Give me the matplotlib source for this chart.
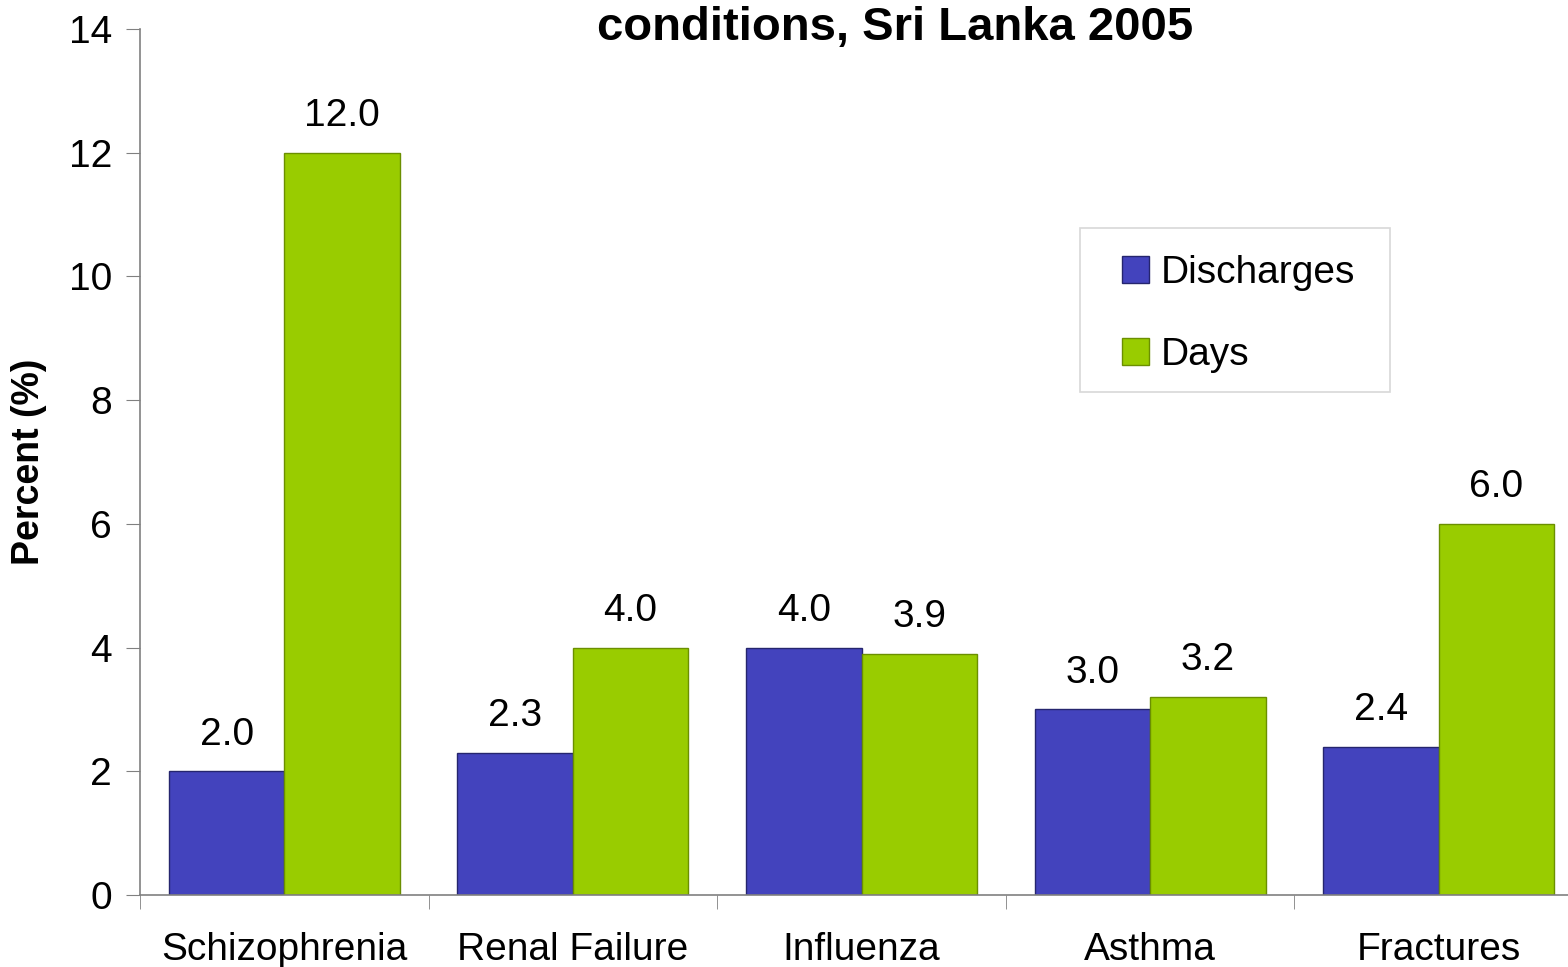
import numpy as np
import matplotlib.pyplot as plt
from matplotlib.patches import Rectangle

categories = ['Schizophrenia', 'Renal Failure', 'Influenza', 'Asthma', 'Fractures']
discharges = [2.0, 2.3, 4.0, 3.0, 2.4]
days = [12.0, 4.0, 3.9, 3.2, 6.0]

plt.rcParams['font.family'] = ['Liberation Sans', 'DejaVu Sans']

W, H = 1568, 967
fig = plt.figure(figsize=(W / 100, H / 100), dpi=100)
ax = fig.add_axes([140 / W, 1 - 895 / H, (1583 - 140) / W, (895 - 29) / H])

x = np.arange(len(categories))
w = 0.4
b1 = ax.bar(x - w / 2, discharges, w, color='#4343bd', edgecolor='#25256e',
            linewidth=1.0, label='Discharges')
b2 = ax.bar(x + w / 2, days, w, color='#99cc00', edgecolor='#6b8f00',
            linewidth=1.0, label='Days')

for bars, vals in ((b1, discharges), (b2, days)):
    for r, v in zip(bars, vals):
        ax.text(r.get_x() + r.get_width() / 2, v + 0.3, f'{v:.1f}',
                ha='center', va='bottom', fontsize=28)

ax.set_xlim(-0.5, len(categories) - 0.5)
ax.set_ylim(0, 14)
ax.set_yticks(range(0, 15, 2))
ax.set_xticks(x)
ax.set_xticklabels(categories, fontsize=28)
ax.set_xticks(np.arange(-0.5, len(categories), 1), minor=True)
ax.tick_params(axis='x', which='major', length=0, pad=27)
ax.tick_params(axis='x', which='minor', length=10, color='#808080', direction='out')
ax.tick_params(axis='y', labelsize=28, length=10, color='#808080', pad=10)

for s in ('top', 'right'):
    ax.spines[s].set_visible(False)
for s in ('left', 'bottom'):
    ax.spines[s].set_color('#808080')
    ax.spines[s].set_linewidth(1.2)

ax.set_ylabel('Percent (%)', fontsize=27, fontweight='bold', labelpad=16)

# legend box drawn separately so its size matches the original
fig.patches.append(Rectangle((1080 / W, 1 - 392 / H), (1390 - 1080) / W, (392 - 228) / H,
                             transform=fig.transFigure, facecolor='white',
                             edgecolor='#d8d8d8', linewidth=1.2, zorder=5))
leg = fig.legend(handles=[b1, b2], loc='upper left',
                 bbox_to_anchor=(1122 / W, 1 - 255 / H),
                 fontsize=28, frameon=False, handlelength=0.7,
                 handleheight=0.7, handletextpad=0.3, labelspacing=1.18,
                 borderpad=0, borderaxespad=0)
leg.set_zorder(6)

fig.text(895 / W, 1 - 28 / H, 'conditions, Sri Lanka 2005', ha='center',
         va='center', fontsize=34, fontweight='bold')

fig.savefig('out.png', dpi=100)
